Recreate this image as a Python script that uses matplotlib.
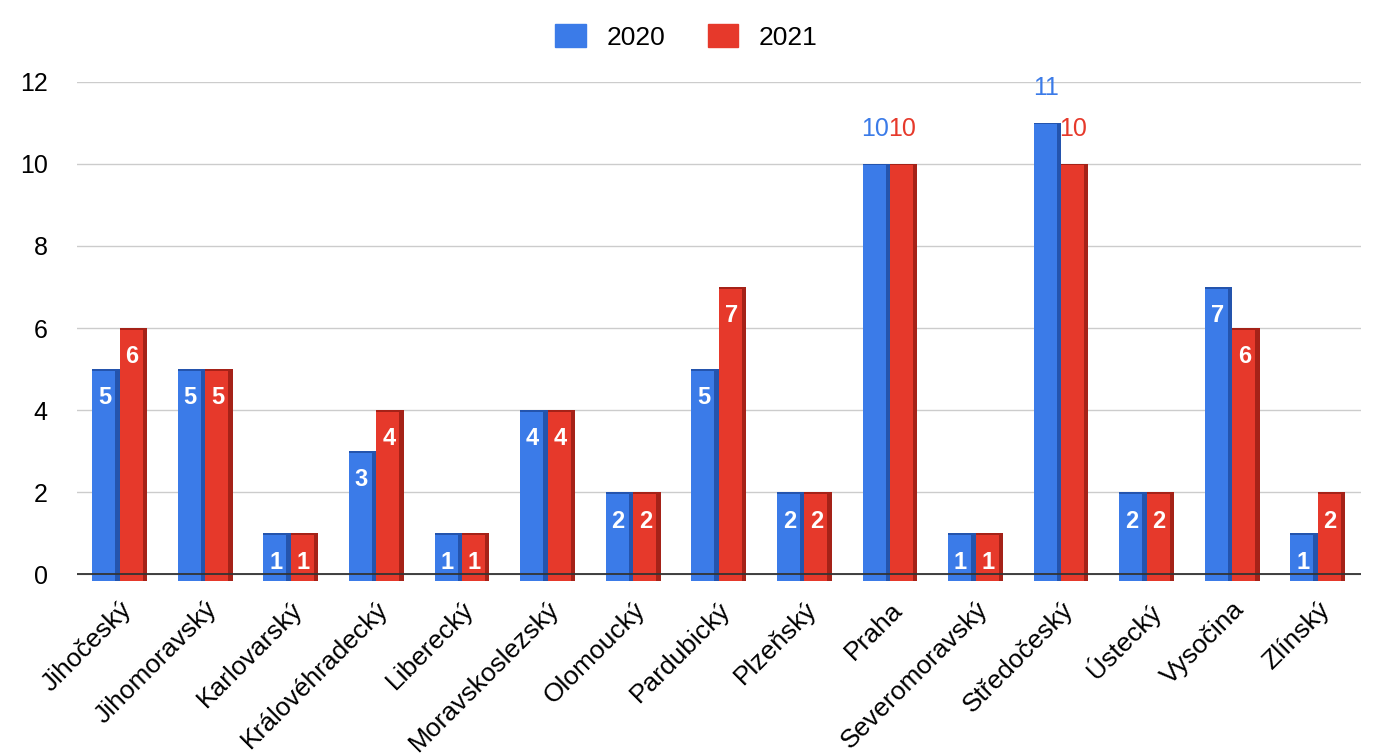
import matplotlib.pyplot as plt
from matplotlib.patches import Rectangle
import numpy as np

plt.rcParams['font.family'] = ['Liberation Sans', 'DejaVu Sans']

# Data
kraje = ["Jihočeský", "Jihomoravský", "Karlovarský", "Královéhradecký", "Liberecký",
         "Moravskoslezský", "Olomoucký", "Pardubický", "Plzeňský", "Praha",
         "Severomoravský", "Středočeský", "Ústecký", "Vysočina", "Zlínský"]
hodnoty_2020 = [5, 5, 1, 3, 1, 4, 2, 5, 2, 10, 1, 11, 2, 7, 1]
hodnoty_2021 = [6, 5, 1, 4, 1, 4, 2, 7, 2, 10, 1, 10, 2, 6, 2]

serie = [("2020", hodnoty_2020, "#3b7be8", "#2454ad", -1),
         ("2021", hodnoty_2021, "#e6392b", "#a52218", 0)]

fig = plt.figure(figsize=(13.73, 7.56), dpi=100)
ax = fig.add_axes([0.056, 0.232, 0.935, 0.66])

x = np.arange(len(kraje))
sirka = 0.32
dno = -0.15

for nazev, hodnoty, barva, tmava, posun in serie:
    leva = x + posun * sirka
    vys = np.array(hodnoty)
    # bocni (tmava) stena + predni stena -> jednoduchy 3D efekt
    ax.bar(leva, vys - dno, width=sirka, bottom=dno, align="edge", color=tmava, zorder=3)
    ax.bar(leva, vys - dno - 0.04, width=sirka * 0.84, bottom=dno, align="edge",
           color=barva, zorder=4)
    for xi, v in zip(leva, hodnoty):
        stred = xi + sirka * 0.45
        if v >= 10:
            ax.text(stred, v + 0.85, str(v), ha="center", va="center", fontsize=18,
                    color=barva, zorder=6, clip_on=False)
        else:
            ax.text(stred, v - 0.7, str(v), ha="center", va="center", fontsize=17,
                    color="white", fontweight="bold", zorder=6)

ax.set_xlim(-0.5, len(kraje) - 0.5)
ax.set_ylim(dno, 12)
ax.set_yticks(range(0, 13, 2))
ax.grid(axis="y", color="#cccccc", linewidth=1, zorder=0)
ax.axhline(0, color="#333333", linewidth=1.3, zorder=5)
ax.set_xticks(x)
ax.set_xticklabels(kraje, rotation=45, ha="right", rotation_mode="anchor", fontsize=19)
ax.tick_params(axis="x", length=0, pad=12)
ax.tick_params(axis="y", length=0, pad=21, labelsize=18)
for s in ax.spines.values():
    s.set_visible(False)

znacky = [Rectangle((0, 0), 1, 1, color=b) for _, _, b, _, _ in serie]
fig.legend(znacky, [n for n, *_ in serie], loc="upper center", bbox_to_anchor=(0.5, 1.0),
           ncol=2, frameon=False, fontsize=19, handlelength=1.15, handleheight=1.0,
           columnspacing=1.6, handletextpad=0.8)

fig.savefig("out.png", dpi=100)
